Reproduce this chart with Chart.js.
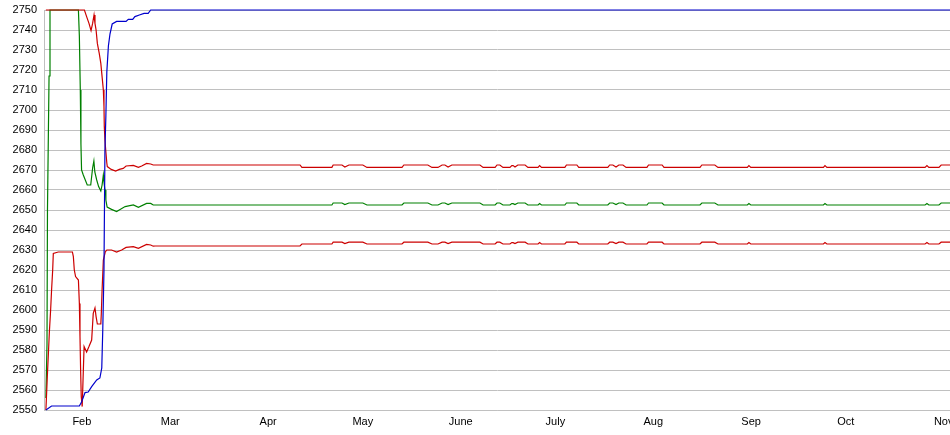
<!DOCTYPE html>
<html>
<head>
<meta charset="utf-8">
<title>Chart</title>
<script src="https://cdn.jsdelivr.net/npm/chart.js@4/dist/chart.umd.min.js"></script>
<style>
  html, body { margin: 0; padding: 0; background: #ffffff; }
  #wrap { width: 950px; height: 435px; }
</style>
</head>
<body>
<div id="wrap"><canvas id="lineChart"></canvas></div>
<script>
// x values are day-of-year (Jan 1 = 0)
const monthDays = [31, 59, 90, 120, 151, 181, 212, 243, 273, 304];
const monthLabels = ["Feb", "Mar", "Apr", "May", "June", "July", "Aug", "Sep", "Oct", "Nov"];

// blue line
const blueDays = [19.6, 21.4, 30.2, 30.9, 32.0, 33.0, 34.1, 35.7, 36.7, 37.3, 37.6, 38.0, 38.3, 38.6, 38.9, 39.4, 39.9, 40.6, 42.0, 45.0, 45.7, 47.1, 47.8, 49.2, 50.7, 52.0, 52.8, 306];
const blueVals = [2550, 2552, 2552, 2554, 2558.7, 2559, 2561.7, 2565, 2566, 2571, 2589, 2620, 2680, 2697, 2719, 2732, 2738, 2743, 2744.3, 2744.3, 2745.3, 2745.3, 2746.7, 2747.5, 2748.3, 2748.3, 2750, 2750];

// green (middle) line, first weeks
const midHeadDays = [19.6, 19.95, 20.1, 20.6, 20.9, 29.9, 30.2, 30.5, 30.7, 30.9, 31.45, 32.7, 33.8, 34.4, 34.8, 35.1, 35.7, 36.3, 37.0, 37.4, 37.8, 38.0, 38.3, 38.45, 38.6, 39.0, 40.4, 42.0, 43.1, 44.7, 47.3, 48.9, 51.5, 52.8, 53.6];
const midHeadVals = [2556, 2583, 2650, 2717, 2750, 2750, 2737, 2710, 2683, 2670, 2667.5, 2662.5, 2662.5, 2671, 2674.5, 2669, 2665, 2661.7, 2659.5, 2662.5, 2667.5, 2664, 2660, 2660, 2655, 2651.5, 2650.3, 2649.2, 2650.3, 2651.7, 2652.5, 2651.3, 2653.3, 2653.3, 2652.5];

// upper red line, first weeks
const upperHeadDays = [19.6, 31.8, 32.5, 33.25, 33.9, 34.4, 34.85, 35.15, 35.5, 35.9, 36.5, 37.0, 37.4, 37.8, 38.0, 38.1, 38.3, 38.55, 38.9, 39.05, 40.3, 41.7, 42.85, 44.1, 45.0, 47.3, 48.9, 49.95, 51.5, 52.8, 53.6];
const upperHeadVals = [2750, 2750, 2746.7, 2743.3, 2739.7, 2743.3, 2747.5, 2743.3, 2740, 2733.3, 2728.3, 2723.3, 2716.7, 2710, 2701.7, 2691.7, 2685, 2680, 2673.5, 2671.7, 2670.3, 2669.5, 2670.3, 2670.8, 2672, 2672.3, 2671.3, 2672, 2673.3, 2673, 2672.5];

// lower red line, first weeks
const lowerHeadDays = [19.6, 20.05, 20.4, 20.7, 21.1, 21.4, 21.75, 21.95, 23.5, 28.0, 28.3, 28.6, 29.0, 29.9, 30.2, 30.4, 30.6, 30.8, 31.1, 31.7, 32.5, 33.25, 34.1, 34.6, 35.15, 35.5, 35.9, 37.0, 37.15, 37.4, 37.8, 38.4, 38.9, 40.4, 42.0, 43.6, 45.0, 47.3, 48.9, 51.5, 52.8, 53.6];
const lowerHeadVals = [2550, 2566.7, 2578.5, 2589, 2600, 2610, 2620, 2628.3, 2629, 2629, 2626.7, 2620, 2616.7, 2615, 2603.3, 2586.7, 2570, 2556.7, 2551.7, 2581.7, 2579, 2581.7, 2585, 2598.3, 2601, 2596.7, 2593, 2593, 2598, 2610, 2625, 2629, 2630, 2630, 2629, 2630, 2631.3, 2631.7, 2630.8, 2632.8, 2632.5, 2631.9];

// rest of the year, same days for the three band lines
const tailDays = [54.2, 100.1, 100.7, 110.2, 110.6, 113.4, 114.3, 115.6, 120.0, 121.3, 132.4, 133.0, 140.6, 141.9, 143.8, 145.1, 146.0, 147.0, 148.2, 157.1, 158.1, 161.9, 162.5, 163.4, 164.4, 166.6, 167.2, 167.6, 168.2, 169.1, 171.4, 172.3, 175.5, 176.0, 176.6, 184.0, 184.5, 187.8, 188.4, 197.6, 198.2, 199.2, 200.2, 201.1, 202.4, 203.4, 210.0, 210.5, 214.8, 215.4, 226.8, 227.4, 231.5, 232.5, 241.8, 242.3, 242.9, 265.9, 266.4, 267.0, 298.1, 298.7, 299.3, 302.5, 303.2, 306];
const midTailVals = [2652.5, 2652.5, 2652.5, 2652.5, 2653.5, 2653.5, 2652.7, 2653.5, 2653.5, 2652.5, 2652.5, 2653.5, 2653.5, 2652.5, 2652.5, 2653.5, 2653.5, 2652.7, 2653.5, 2653.5, 2652.5, 2652.5, 2653.5, 2653.5, 2652.5, 2652.5, 2653.2, 2653.2, 2652.7, 2653.5, 2653.5, 2652.5, 2652.5, 2653.2, 2652.5, 2652.5, 2653.5, 2653.5, 2652.5, 2652.5, 2653.5, 2653.5, 2652.7, 2653.5, 2653.5, 2652.5, 2652.5, 2653.5, 2653.5, 2652.5, 2652.5, 2653.5, 2653.5, 2652.5, 2652.5, 2653.2, 2652.5, 2652.5, 2653.2, 2652.5, 2652.5, 2653.2, 2652.5, 2652.5, 2653.5, 2653.5];
const upperTailVals = [2672.5, 2672.5, 2671.3, 2671.3, 2672.5, 2672.5, 2671.5, 2672.5, 2672.5, 2671.3, 2671.3, 2672.5, 2672.5, 2671.3, 2671.3, 2672.5, 2672.5, 2671.5, 2672.5, 2672.5, 2671.3, 2671.3, 2672.5, 2672.5, 2671.3, 2671.3, 2672.2, 2672.2, 2671.5, 2672.5, 2672.5, 2671.3, 2671.3, 2672.2, 2671.3, 2671.3, 2672.5, 2672.5, 2671.3, 2671.3, 2672.5, 2672.5, 2671.5, 2672.5, 2672.5, 2671.3, 2671.3, 2672.5, 2672.5, 2671.3, 2671.3, 2672.5, 2672.5, 2671.3, 2671.3, 2672.2, 2671.3, 2671.3, 2672.2, 2671.3, 2671.3, 2672.2, 2671.3, 2671.3, 2672.5, 2672.5];
const lowerTailVals = [2632, 2632, 2633, 2633, 2633.9, 2633.9, 2633.2, 2633.9, 2633.9, 2633, 2633, 2633.9, 2633.9, 2633, 2633, 2633.9, 2633.9, 2633.2, 2633.9, 2633.9, 2633, 2633, 2633.9, 2633.9, 2633, 2633, 2633.7, 2633.7, 2633.2, 2633.9, 2633.9, 2633, 2633, 2633.7, 2633, 2633, 2633.9, 2633.9, 2633, 2633, 2633.9, 2633.9, 2633.2, 2633.9, 2633.9, 2633, 2633, 2633.9, 2633.9, 2633, 2633, 2633.9, 2633.9, 2633, 2633, 2633.7, 2633, 2633, 2633.7, 2633, 2633, 2633.7, 2633, 2633, 2633.9, 2633.9];

const toPoints = (days, vals) => days.map((d, i) => ({ x: d, y: vals[i] }));

const lineSet = (label, color, points) => ({
  label: label,
  data: points,
  borderColor: color,
  borderWidth: 1.2,
  pointRadius: 0,
  tension: 0,
  fill: false,
  clip: 3, // let the lines sitting on 2750 show in full
});

const gridColor = "#c0c0c0";
const tickFont = { family: "'Liberation Sans', Arial, sans-serif", size: 11 };

// dataset 0 is painted last, so blue sits on top
new Chart(document.getElementById("lineChart"), {
  type: "line",
  data: {
    datasets: [
      lineSet("price", "#0000cc", toPoints(blueDays, blueVals)),
      lineSet("upper", "#cc0000", toPoints(upperHeadDays.concat(tailDays), upperHeadVals.concat(upperTailVals))),
      lineSet("lower", "#cc0000", toPoints(lowerHeadDays.concat(tailDays), lowerHeadVals.concat(lowerTailVals))),
      lineSet("middle", "#008000", toPoints(midHeadDays.concat(tailDays), midHeadVals.concat(midTailVals))),
    ],
  },
  options: {
    responsive: true,
    maintainAspectRatio: false,
    animation: false,
    layout: { padding: { top: 10, right: 0, left: 0, bottom: 0 } },
    plugins: { legend: { display: false }, tooltip: { enabled: false } },
    scales: {
      x: {
        type: "linear",
        min: 19,
        max: 306,
        grid: { display: false, drawTicks: false },
        border: { display: true, color: gridColor },
        afterBuildTicks: (scale) => {
          scale.ticks = monthDays.map((d) => ({ value: d }));
        },
        afterFit: (scale) => {
          scale.height = 25;
          scale.paddingLeft = 0;
          scale.paddingRight = 0;
        },
        ticks: {
          autoSkip: false,
          maxRotation: 0,
          padding: 5,
          color: "#000",
          font: tickFont,
          callback: (value, index) => monthLabels[index],
        },
      },
      y: {
        min: 2550,
        max: 2750,
        grid: { color: gridColor, lineWidth: 1, drawTicks: false },
        border: { display: true, color: gridColor },
        afterFit: (scale) => {
          scale.width = 44;
          scale.paddingTop = 0;
          scale.paddingBottom = 0;
        },
        ticks: {
          stepSize: 10,
          padding: 7,
          color: "#000",
          font: tickFont,
          callback: (value) => String(value),
        },
      },
    },
  },
});
</script>
</body>
</html>
